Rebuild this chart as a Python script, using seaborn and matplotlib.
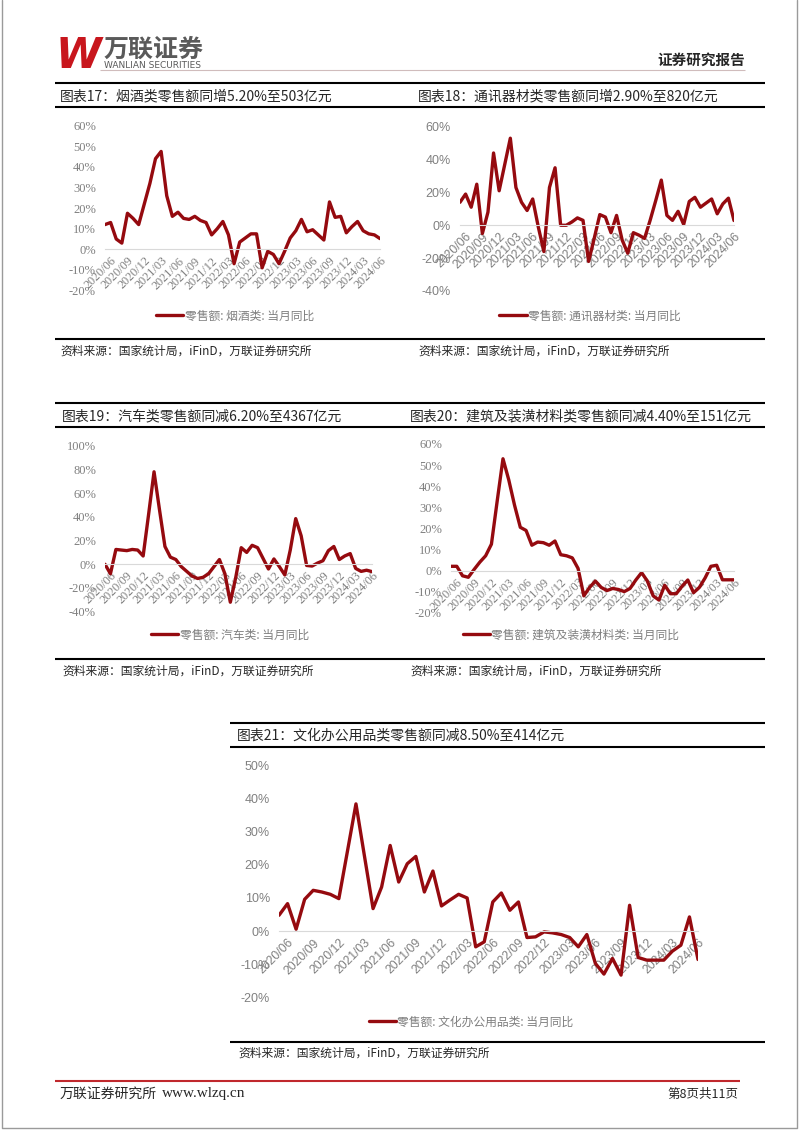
import matplotlib
matplotlib.use('Agg')
import matplotlib.pyplot as plt
import numpy as np
import pandas as pd
import seaborn as sns
from matplotlib.ticker import StrMethodFormatter

sns.set_style('white')
plt.rcParams['font.family'] = ['Noto Sans CJK SC', 'DejaVu Sans']
plt.rcParams['axes.unicode_minus'] = False

W, H = 802, 1133
RED = '#950a0f'
GRAY = '#808080'

# monthly data 2020/05 .. 2024/06 (当月同比, %)
months = list(pd.date_range('2020-05-01', '2024-06-01', freq='MS').strftime('%Y/%m'))

tobacco = [12, 13, 5, 3, 17.5, 15, 12, 22, 32, 44,
           47.5, 26, 16, 18, 15, 14.5, 16, 14, 13, 7,
           10, 13.5, 7, -7, 3.5, 5.5, 7.5, 7.5, -9, -1,
           -2.5, -7, -1, 5.5, 9, 14.5, 8.5, 9.5, 7, 4.5,
           23, 15.5, 16, 8, 11, 13.5, 9, 7.5, 7, 5.2]

telecom = [14, 19, 11, 25, -5, 8, 44, 21, 37, 53,
           23, 14, 9, 16, -1, -16, 23, 35, 0, 0,
           2, 4.5, 3, -22, -8, 6.5, 5, -4.5, 6, -9,
           -17, -4.5, -6, -8, 3, 15, 27.5, 6, 3, 8.5,
           0.5, 14.5, 17, 11, 13.5, 16, 7, 13, 16.5, 2.9]

autos = [0, -8, 12.5, 12, 11.5, 12.5, 12, 7, 42, 78,
         46, 15, 6, 4, -2, -6, -10, -12, -11, -8,
         -2, 4, -8, -32, -11, 14, 10, 16, 14, 5,
         -4, 4.5, -2, -9, 12, 38.5, 24, -1, -1.5, 1,
         3, 11.5, 15, 4, 7, 9, -3.5, -6, -5, -6.2]

building = [2, 2, -2.5, -3.2, 0.5, 4, 7, 12.5, 33, 53,
            43, 31, 20.5, 19, 12, 13.5, 13.2, 12, 14, 7.5,
            7, 6, 1, -12, -8, -5, -8, -9.5, -8.5, -9,
            -10, -8.5, -4.5, -1, -5, -12, -14, -7, -11, -11,
            -7.5, -4.5, -10.5, -8, -3.5, 2, 2.5, -4.4, -4.4, -4.4]

office = [4.8, 8.3, 0.6, 9.6, 12.3, 11.8, 11.1, 9.8, 24, 38.3,
          22.5, 6.8, 13.3, 25.8, 14.8, 20.3, 22.5, 11.8, 18.1, 7.6,
          9.4, 11.1, 10, -4.7, -3.2, 8.8, 11.5, 6.3, 8.8, -1.9,
          -1.7, -0.2, -0.5, -1, -1.9, -4.7, -1, -9.7, -12.9, -8.2,
          -13.2, 7.8, -7.9, -8.7, -8.7, -8.7, -6, -4.2, 4.3, -8.5]

titles = ['图表17：烟酒类零售额同增5.20%至503亿元',
          '图表18：通讯器材类零售额同增2.90%至820亿元',
          '图表19：汽车类零售额同减6.20%至4367亿元',
          '图表20：建筑及装潢材料类零售额同减4.40%至151亿元',
          '图表21：文化办公用品类零售额同减8.50%至414亿元']
legends = ['零售额: 烟酒类: 当月同比', '零售额: 通讯器材类: 当月同比',
           '零售额: 汽车类: 当月同比', '零售额: 建筑及装潢材料类: 当月同比',
           '零售额: 文化办公用品类: 当月同比']
source = '资料来源：国家统计局，iFinD，万联证券研究所'

fig = plt.figure(figsize=(W / 100, H / 100), dpi=100)

# page layer in pixel coordinates
bg = fig.add_axes([0, 0, 1, 1])
bg.set_xlim(0, W)
bg.set_ylim(H, 0)
bg.axis('off')


def hline(y, x0, x1, lw=1.5, color='black'):
    bg.plot([x0, x1], [y, y], color=color, lw=lw, solid_capstyle='butt')


# page frame
bg.plot([2, 2, 797, 797], [0, 1128, 1128, 0], color='#9a9a9a', lw=1)

# header
bg.text(56, 56, 'W', color='#c8161d', fontsize=30, fontweight='bold',
        fontstyle='italic', family='DejaVu Sans', va='center', ha='left')
bg.text(103, 50, '万联证券', color='#5a5a5a', fontsize=18, fontweight='bold',
        va='center', ha='left')
bg.text(104, 66, 'WANLIAN SECURITIES', color='#5a5a5a', fontsize=6.5,
        family='DejaVu Sans', va='center', ha='left')
hline(70, 100, 745, lw=0.8, color='#d0bcbc')
bg.text(745, 60, '证券研究报告', fontsize=10.5, fontweight='bold',
        va='center', ha='right')

# section frames
for y0, y1, y2, xa in [(83, 107, 339, 55), (403, 427, 659, 55), (723, 747, 1042, 230)]:
    hline(y0, xa, 765)
    hline(y1, xa, 765)
    hline(y2, xa, 765)

title_pos = [(60, 96), (418, 96), (62, 416), (410, 416), (237, 735)]
source_pos = [(60, 351), (418, 351), (62, 671), (410, 671), (238, 1053)]
for t, (x, y) in zip(titles, title_pos):
    bg.text(x, y, t, fontsize=10, va='center', ha='left')
for (x, y) in source_pos:
    bg.text(x, y, source, fontsize=8.5, fontstyle='italic', va='center', ha='left')

# footer
hline(1081, 55, 740, lw=1.5, color='#c0282d')
bg.text(60, 1094, '万联证券研究所', fontsize=10, va='center', ha='left')
bg.text(162, 1094, 'www.wlzq.cn', fontsize=11, family='Liberation Serif',
        va='center', ha='left')
bg.text(738, 1094, '第8页共11页', fontsize=9, va='center', ha='right')

# chart specs: data, box (x0, x1, ytop, ybot in px), y range, step, legend center, tick font
charts = [
    (tobacco, (105, 380, 125.7, 290.5), (-20, 60), 10, (235, 316), 'Liberation Serif'),
    (telecom, (460, 734, 126.7, 291), (-40, 60), 20, (590, 316), 'Liberation Sans'),
    (autos, (105, 372, 445.7, 611.7), (-40, 100), 20, (230, 635), 'Liberation Serif'),
    (building, (451, 734, 444, 612.7), (-20, 60), 10, (571, 635), 'Liberation Serif'),
    (office, (279, 698, 765, 997.7), (-20, 50), 10, (471, 1022), 'Liberation Sans'),
]

for (vals, box, yr, step, leg, tfont), name in zip(charts, legends):
    x0, x1, yt, yb = box
    ax = fig.add_axes([x0 / W, 1 - yb / H, (x1 - x0) / W, (yb - yt) / H])
    ax.patch.set_alpha(0)
    df = pd.DataFrame({'idx': np.arange(len(vals)), 'val': vals})
    sns.lineplot(data=df, x='idx', y='val', ax=ax, color=RED, lw=2.4, label=name)
    ax.set_xlim(0, len(vals) - 1)
    ax.set_ylim(*yr)
    ax.set_yticks(np.arange(yr[0], yr[1] + 1, step))
    ax.yaxis.set_major_formatter(StrMethodFormatter('{x:.0f}%'))
    ax.set_xticks(range(1, len(vals), 3))
    ax.set_xticklabels(months[1::3])
    for s in ['top', 'right', 'left']:
        ax.spines[s].set_visible(False)
    ax.spines['bottom'].set_position(('data', 0))
    ax.spines['bottom'].set_color('#d9d9d9')
    ax.tick_params(axis='y', length=0, pad=6.5, labelsize=9, labelcolor=GRAY)
    ax.tick_params(axis='x', length=3, color='#d9d9d9', pad=1, labelsize=8.8,
                   labelcolor=GRAY)
    for lab in ax.get_xticklabels():
        lab.set_rotation(45)
        lab.set_ha('right')
        lab.set_va('top')
        lab.set_rotation_mode('anchor')
        lab.set_family(tfont)
    for lab in ax.get_yticklabels():
        lab.set_family(tfont)
    ax.set_xlabel('')
    ax.set_ylabel('')
    ax.legend(loc='center', bbox_to_anchor=(leg[0] / W, 1 - leg[1] / H),
              bbox_transform=fig.transFigure, frameon=False, fontsize=8.5,
              handlelength=2.3, handletextpad=0.1, labelcolor='#7f7f7f')

fig.savefig('out.png', dpi=100)
